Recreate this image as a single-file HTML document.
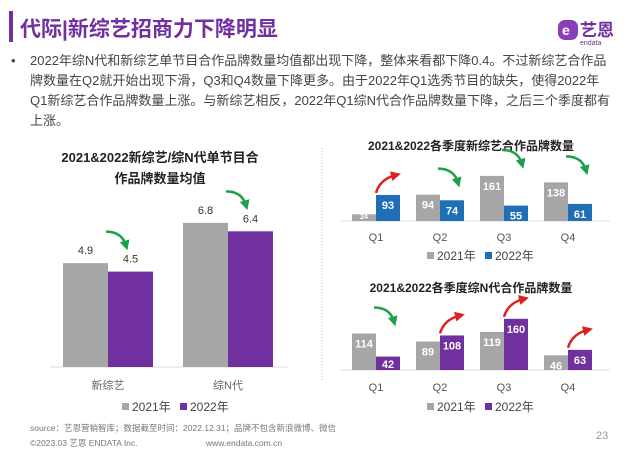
<!DOCTYPE html>
<html><head><meta charset="utf-8"><style>
body{margin:0;width:640px;height:451px;background:#fff;overflow:hidden;font-family:"Liberation Sans","Noto Sans CJK SC",sans-serif;}
svg text{font-family:"Liberation Sans","Noto Sans CJK SC",sans-serif;}
</style></head><body>
<svg id="s" width="640" height="451" viewBox="0 0 640 451" xmlns="http://www.w3.org/2000/svg">
<defs>
<marker id="ag" viewBox="0 0 10 10" refX="5" refY="5" markerWidth="4" markerHeight="4" orient="auto"><path d="M0,0L10,5L0,10z" fill="#1ea04a"/></marker>
<marker id="ar" viewBox="0 0 10 10" refX="5" refY="5" markerWidth="4" markerHeight="4" orient="auto"><path d="M0,0L10,5L0,10z" fill="#e02020"/></marker>
</defs>
<rect x="9" y="11" width="4" height="31" fill="#7030a0"/>
<text x="20" y="36" font-size="21" font-weight="bold" fill="#7030a0">代际|新综艺招商力下降明显</text>
<g>
<rect x="558" y="20" width="20" height="20" rx="7" fill="#8a3fb8"/>
<text x="562" y="35" font-size="14" fill="#fff" font-weight="bold">e</text>
<text x="580" y="36" font-size="17" fill="#7030a0" font-weight="bold">艺恩</text>
<text x="580" y="45" font-size="7" fill="#7030a0">endata</text>
</g>
<g font-size="13" fill="#444">
<text x="11" y="65">•</text>
<text x="30" y="65">2022年综N代和新综艺单节目合作品牌数量均值都出现下降，整体来看都下降0.4。不过新综艺合作品</text>
<text x="30" y="85">牌数量在Q2就开始出现下滑，Q3和Q4数量下降更多。由于2022年Q1选秀节目的缺失，使得2022年</text>
<text x="30" y="105">Q1新综艺合作品牌数量上涨。与新综艺相反，2022年Q1综N代合作品牌数量下降，之后三个季度都有</text>
<text x="30" y="125">上涨。</text>
</g>
<line x1="322" y1="148" x2="322" y2="380" stroke="#bbb" stroke-dasharray="1,2"/>
<g id="left"></g><g id="top"></g><g id="bot"></g>
<g font-size="8.5" fill="#777">
<text x="30" y="431">source：艺恩营销智库；数据截至时间：2022.12.31；品牌不包含新浪微博、微信</text>
<text x="30" y="446">©2023.03 艺恩 ENDATA Inc.</text>
<text x="206" y="446">www.endata.com.cn</text>
<text x="596" y="439" font-size="11" fill="#999">23</text>
</g>
</svg>
<script>
const NS='http://www.w3.org/2000/svg';
function mk(p,t,a,txt){const e=document.createElementNS(NS,t);for(const k in a)e.setAttribute(k,a[k]);if(txt!==undefined)e.textContent=txt;p.appendChild(e);return e;}
// Left chart data
const avgCats=['新综艺','综N代'];
const avg2021=[4.9,6.8];
const avg2022=[4.5,6.4];
// Top chart data
const quarters=['Q1','Q2','Q3','Q4'];
const newShow2021=[24,94,161,138];
const newShow2022=[93,74,55,61];
// Bottom chart data
const nGen2021=[114,89,119,46];
const nGen2022=[42,108,160,63];

function arrow(g,x,y,up){
  const c=up?'#e02020':'#1ea04a';
  const p=up?`M${x-12},${y+14} Q${x-8},${y} ${x+8},${y-4}`:`M${x-14},${y-10} Q${x+2},${y-10} ${x+6},${y+4}`;
  const a=mk(g,'path',{d:p,fill:'none',stroke:c,'stroke-width':2.5,'marker-end':up?'url(#ar)':'url(#ag)'});
  
  
}
function legend(g,x,y,c2){
  mk(g,'rect',{x:x,y:y-8,width:7,height:7,fill:'#a6a6a6'});
  mk(g,'text',{x:x+10,y:y,'font-size':12,fill:'#444'},'2021年');
  mk(g,'rect',{x:x+58,y:y-8,width:7,height:7,fill:c2});
  mk(g,'text',{x:x+68,y:y,'font-size':12,fill:'#444'},'2022年');
}
// left
(function(){
  const g=document.getElementById('left');
  
  
  const base=367,sc=21.2,x0=[63,183],w=45;
  const y=v=>base-v*sc;
  mk(g,'text',{x:160,y:162,'font-size':13,'font-weight':'bold','text-anchor':'middle',fill:'#222'},'2021&2022新综艺/综N代单节目合');
  mk(g,'text',{x:160,y:183,'font-size':13,'font-weight':'bold','text-anchor':'middle',fill:'#222'},'作品牌数量均值');
  mk(g,'line',{x1:50,y1:base,x2:288,y2:base,stroke:'#ddd'});
  avgCats.forEach((c,i)=>{
    const b1=mk(g,'rect',{x:x0[i],y:y(avg2021[i]),width:w,height:avg2021[i]*sc,fill:'#a6a6a6'});
    
    
    const b2=mk(g,'rect',{x:x0[i]+w,y:y(avg2022[i]),width:w,height:avg2022[i]*sc,fill:'#7030a0'});
    
    
    mk(g,'text',{x:x0[i]+w/2,y:y(avg2021[i])-9,'font-size':11,'text-anchor':'middle',fill:'#333'},avg2021[i].toFixed(1));
    mk(g,'text',{x:x0[i]+w*1.5,y:y(avg2022[i])-9,'font-size':11,'text-anchor':'middle',fill:'#333'},avg2022[i].toFixed(1));
    mk(g,'text',{x:x0[i]+w,y:389,'font-size':11,'text-anchor':'middle',fill:'#666'},c);
    arrow(g,x0[i]+w+12,y(avg2022[i])-30,avg2022[i]>avg2021[i]);
  });
  legend(g,122,411,'#7030a0');
})();
function quarterChart(id,title,d1,d2,c2,base,sc,titleY,labY,legY){
  const g=document.getElementById(id);
  
  
  mk(g,'text',{x:471,y:titleY,'font-size':12,'font-weight':'bold','text-anchor':'middle',fill:'#222'},title);
  mk(g,'line',{x1:340,y1:base,x2:610,y2:base,stroke:'#ddd'});
  const w=24;
  quarters.forEach((q,i)=>{
    const x=352+i*64;
    const b1=mk(g,'rect',{x:x,y:base-d1[i]*sc,width:w,height:d1[i]*sc,fill:'#a6a6a6'});
    
    
    const b2=mk(g,'rect',{x:x+w,y:base-d2[i]*sc,width:w,height:d2[i]*sc,fill:c2});
    
    
    const h1=d1[i]*sc,h2=d2[i]*sc;
    mk(g,'text',{x:x+w/2,y:h1>14?base-h1+14:base-2,'font-size':h1>14?11:7,'font-weight':'bold','text-anchor':'middle',fill:'#fff'},d1[i]);
    mk(g,'text',{x:x+w*1.5,y:h2>14?base-h2+14:base-2,'font-size':11,'font-weight':'bold','text-anchor':'middle',fill:'#fff'},d2[i]);
    mk(g,'text',{x:x+w,y:labY,'font-size':11,'text-anchor':'middle',fill:'#555'},q);
    arrow(g,x+w+12,base-Math.max(h1,h2)-16,d2[i]>d1[i]);
  });
  legend(g,427,legY,c2);
}
quarterChart('top','2021&2022各季度新综艺合作品牌数量',newShow2021,newShow2022,'#1f6fb8',221,0.28,150,241,260);
quarterChart('bot','2021&2022各季度综N代合作品牌数量',nGen2021,nGen2022,'#7030a0',370,0.32,292,391,411);
</script>
</body></html>
